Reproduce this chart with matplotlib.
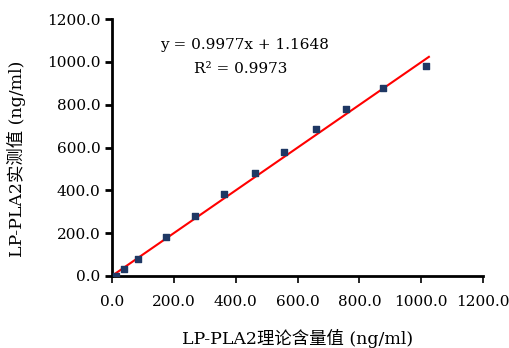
import numpy as np
import matplotlib
matplotlib.use('Agg')
import matplotlib.pyplot as plt

plt.rcParams['font.family'] = ['DejaVu Serif', 'Noto Sans CJK SC']

# Measured points (theoretical vs measured, ng/ml)
x_theory = [12, 39, 85, 174, 268, 361, 461, 556, 660, 757, 875, 1015]
y_measured = [2, 31, 79, 181, 280, 383, 480, 578, 685, 782, 877, 981]

# Fitted line
slope = 0.9977
intercept = 1.1648
r2 = 0.9973

x_ticks = [0, 200, 400, 600, 800, 1000, 1200]
y_ticks = [0, 200, 400, 600, 800, 1000, 1200]

fig = plt.figure(figsize=(5.1, 3.48), dpi=100)
ax = fig.add_axes([0.22, 0.207, 0.727, 0.738])

xf = np.array([0, 1025])
ax.plot(xf, slope * xf + intercept, color='#ff0000', lw=1.5, zorder=2)
ax.scatter(x_theory, y_measured, marker='s', s=24, color='#1f3864', zorder=3)

ax.set_xlim(0, 1200)
ax.set_ylim(0, 1200)
ax.set_xticks(x_ticks)
ax.set_yticks(y_ticks)
ax.set_xticklabels(['%.1f' % v for v in x_ticks], fontsize=11)
ax.set_yticklabels(['%.1f' % v for v in y_ticks], fontsize=11)

for s in ['top', 'right']:
    ax.spines[s].set_visible(False)
for s in ['left', 'bottom']:
    ax.spines[s].set_linewidth(2)
ax.tick_params(direction='out', length=5, width=2)
ax.tick_params(axis='x', width=1.2, pad=9)

ax.set_xlabel('LP-PLA2理论含量值 (ng/ml)', fontsize=12.5, labelpad=14)
ax.set_ylabel('LP-PLA2实测值 (ng/ml)', fontsize=12.5)
ax.yaxis.set_label_coords(-0.232, 0.455)

ax.text(0.13, 0.885, 'y = %.4fx + %.4f' % (slope, intercept), transform=ax.transAxes,
        fontsize=11)
ax.text(0.22, 0.79, 'R² = %.4f' % r2, transform=ax.transAxes, fontsize=11)

fig.savefig('out.png', dpi=100)
